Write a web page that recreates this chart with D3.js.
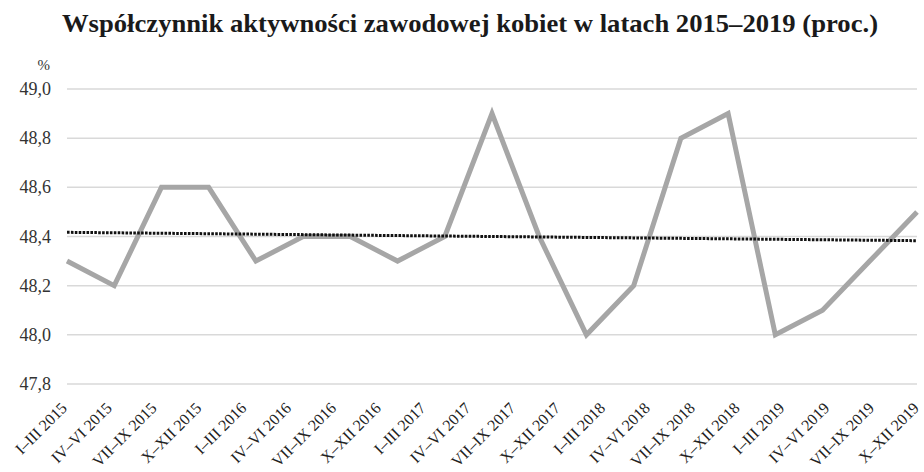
<!DOCTYPE html>
<html><head><meta charset="utf-8">
<script src="https://cdn.jsdelivr.net/npm/d3@7"></script>
<style>body{margin:0;background:#fff}svg{display:block}text{font-family:"Liberation Serif","Times New Roman",serif}</style>
</head><body>
<script>
const title = "Współczynnik aktywności zawodowej kobiet w latach 2015–2019 (proc.)";
const categories = ["I–III 2015","IV–VI 2015","VII–IX 2015","X–XII 2015","I–III 2016","IV–VI 2016","VII–IX 2016","X–XII 2016","I–III 2017","IV–VI 2017","VII–IX 2017","X–XII 2017","I–III 2018","IV–VI 2018","VII–IX 2018","X–XII 2018","I–III 2019","IV–VI 2019","VII–IX 2019","X–XII 2019"];
const values = [48.3,48.2,48.6,48.6,48.3,48.4,48.4,48.3,48.4,48.9,48.4,48.0,48.2,48.8,48.9,48.0,48.1,48.3,48.5];
const trend = [48.417, 48.383];
const yTicks = [47.8,48.0,48.2,48.4,48.6,48.8,49.0];

const W=924,H=472, L=67, R=917, T=89, B=384;
const svg=d3.select("body").append("svg").attr("width",W).attr("height",H);
const y=d3.scaleLinear().domain([47.8,49.0]).range([B,T]);
const xi=d3.scaleLinear().domain([0,values.length-1]).range([L,R]);
const xc=d3.scalePoint().domain(categories).range([68,920]);

svg.append("text").attr("x",470).attr("y",32).attr("text-anchor","middle")
  .attr("font-weight","bold").attr("font-size",25)
  .attr("textLength",816).attr("lengthAdjust","spacingAndGlyphs").attr("fill","#1a1a1a").text(title);

svg.append("g").selectAll("line").data(yTicks).join("line")
  .attr("x1",L).attr("x2",R).attr("y1",d=>y(d)).attr("y2",d=>y(d))
  .attr("stroke","#d9d9d9").attr("stroke-width",1.5);
svg.append("g").selectAll("text").data(yTicks).join("text")
  .attr("x",51).attr("y",d=>y(d)+6).attr("text-anchor","end")
  .attr("font-size",18).attr("fill","#333")
  .text(d=>d3.format(".1f")(d).replace(".",","));
svg.append("text").attr("x",50).attr("y",70).attr("text-anchor","end")
  .attr("font-size",15).attr("fill","#333").text("%");

svg.append("path").datum(values)
  .attr("d",d3.line().x((d,i)=>xi(i)).y(d=>y(d)))
  .attr("fill","none").attr("stroke","#a6a6a6").attr("stroke-width",5).attr("stroke-linejoin","miter");

svg.append("path").datum(trend)
  .attr("d",d3.line().x((d,i)=>xi(i*(values.length-1))).y(d=>y(d)))
  .attr("fill","none").attr("stroke","#111").attr("stroke-width",3).attr("stroke-dasharray","2.6,1.3");

svg.append("g").selectAll("text").data(categories).join("text")
  .attr("transform",d=>`translate(${xc(d)},${B+25}) rotate(-45)`)
  .attr("text-anchor","end")
  .attr("font-size",16).attr("fill","#222")
  .text(d=>d);
</script>
</body></html>
